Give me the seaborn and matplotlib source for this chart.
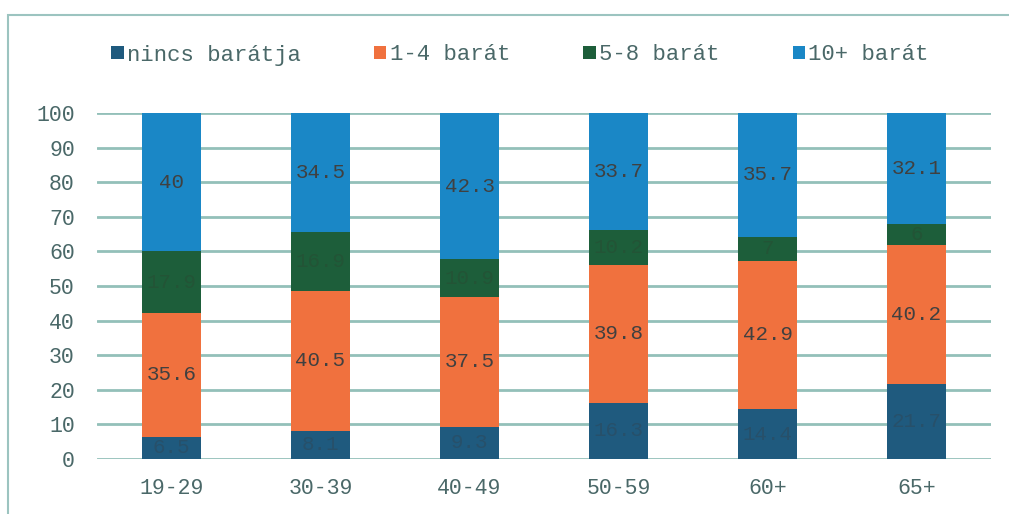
import numpy as np
import pandas as pd
import seaborn as sns
import matplotlib.pyplot as plt
from matplotlib.patches import Rectangle

# data
age_groups = ["19-29", "30-39", "40-49", "50-59", "60+", "65+"]
nincs = [6.5, 8.1, 9.3, 16.3, 14.4, 21.7]
barat_1_4 = [35.6, 40.5, 37.5, 39.8, 42.9, 40.2]
barat_5_8 = [17.9, 16.9, 10.9, 10.2, 7.0, 6.0]
barat_10 = [40, 34.5, 42.3, 33.7, 35.7, 32.1]

series_names = ["nincs barátja", "1-4 barát", "5-8 barát", "10+ barát"]
colors = ["#1f5a7e", "#f0713e", "#1d5e3a", "#1a87c6"]
label_colors = ["#27506a", "#404040", "#235436", "#404040"]

sns.set_style("white")
plt.rcParams['font.family'] = ['Liberation Mono', 'DejaVu Sans Mono']
text_col = "#4a6868"
grid_col = "#93c0b9"

series = [nincs, barat_1_4, barat_5_8, barat_10]
cum = np.cumsum(np.array(series), axis=0)

fig = plt.figure(figsize=(10.09, 5.14), dpi=100)
ax = fig.add_axes([97 / 1009, 1 - 459 / 514, 894 / 1009, 346 / 514])

# outer frame like the original
fig.patches.append(Rectangle((8 / 1009, -0.05), 1.1, 1 - 15 / 514 + 0.05,
                             transform=fig.transFigure, fill=False,
                             edgecolor="#9cc4c0", linewidth=1.5))

# stacked bars: draw cumulative totals from the top down
for i in range(3, -1, -1):
    df = pd.DataFrame({"age": age_groups, "value": cum[i]})
    sns.barplot(data=df, x="age", y="value", color=colors[i], width=0.40,
                saturation=1, ax=ax, zorder=3, label=series_names[i],
                linewidth=0)

# value labels in the middle of each segment
for i in range(4):
    for j in range(len(age_groups)):
        bottom = cum[i][j] - series[i][j]
        ax.text(j, bottom + series[i][j] / 2, f"{series[i][j]:g}",
                ha="center", va="center", fontsize=15,
                color=label_colors[i], zorder=4)

ax.set_ylim(0, 100)
ax.set_xlim(-0.5, 5.5)
ax.set_yticks(range(0, 101, 10))
ax.yaxis.grid(True, color=grid_col, linewidth=2, zorder=0)
ax.set_axisbelow(True)
for s in ax.spines.values():
    s.set_visible(False)
ax.set_xlabel("")
ax.set_ylabel("")
ax.tick_params(axis="both", length=0, labelsize=15.5, labelcolor=text_col)
ax.tick_params(axis="y", pad=16)
ax.tick_params(axis="x", pad=14)

handles, labels = ax.get_legend_handles_labels()
order = [labels.index(n) for n in series_names]
fig.legend([handles[k] for k in order], series_names, loc="center",
           bbox_to_anchor=(520 / 1009, 1 - 55 / 514), ncol=4, frameon=False,
           fontsize=16, handlelength=0.55, handleheight=0.55,
           handletextpad=0.15, columnspacing=3.3, labelcolor=text_col)
if ax.get_legend() is not None:
    ax.get_legend().remove()

fig.savefig("out.png", dpi=100)
